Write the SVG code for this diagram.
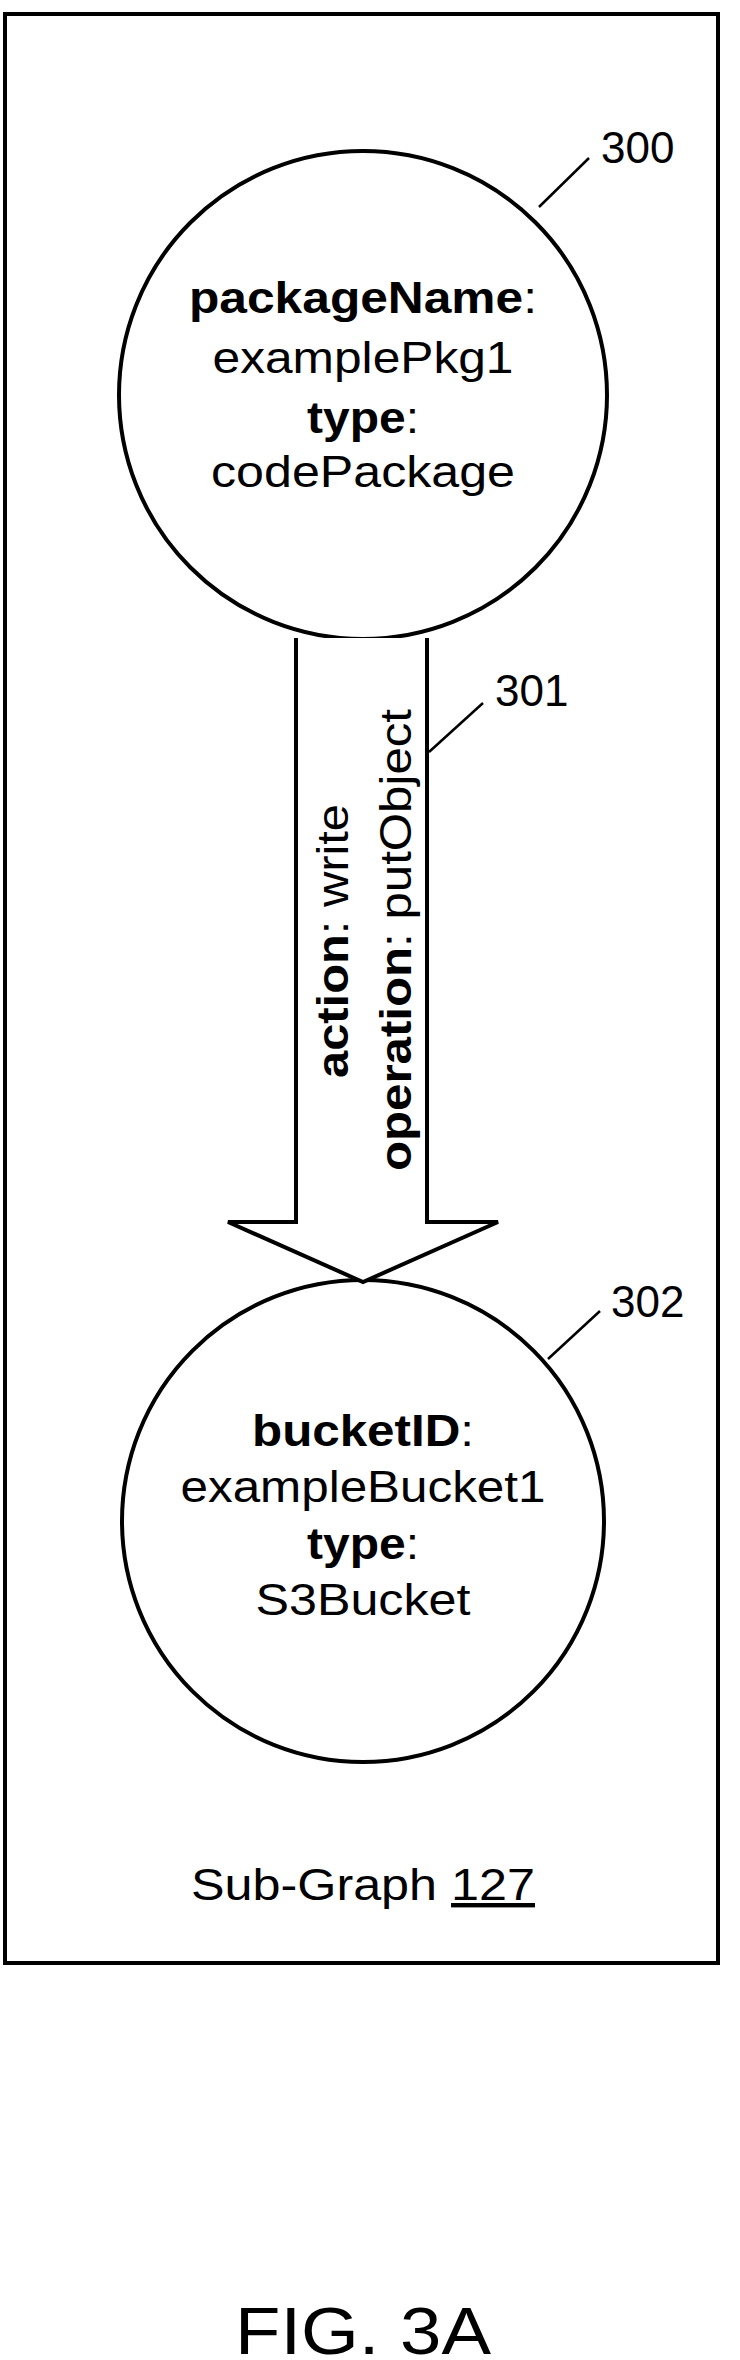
<svg xmlns="http://www.w3.org/2000/svg" width="740" height="2360" viewBox="0 0 740 2360">
<style>
.s{fill:none;stroke:#000;stroke-width:4}
.t{font-family:"Liberation Sans",Arial,sans-serif;font-size:44px;fill:#000;text-anchor:middle}
.b{font-weight:bold}
.l{fill:none;stroke:#000;stroke-width:2.5}
</style>
<rect class="s" x="5" y="14" width="713" height="1949"/>
<g id="node300">
<circle class="s" cx="363" cy="395" r="244"/>
<text class="t" x="363" y="313" textLength="348" lengthAdjust="spacingAndGlyphs"><tspan class="b">packageName</tspan>:</text>
<text class="t" x="363" y="373" textLength="301" lengthAdjust="spacingAndGlyphs">examplePkg1</text>
<text class="t" x="363" y="433" textLength="112" lengthAdjust="spacingAndGlyphs"><tspan class="b">type</tspan>:</text>
<text class="t" x="363" y="487" textLength="304" lengthAdjust="spacingAndGlyphs">codePackage</text>
<line class="l" x1="539" y1="207" x2="589" y2="158"/>
<text class="t" x="601" y="163" style="text-anchor:start">300</text>
</g>
<g id="node302">
<circle class="s" cx="363" cy="1521" r="241"/>
<text class="t" x="363" y="1446" textLength="222" lengthAdjust="spacingAndGlyphs"><tspan class="b">bucketID</tspan>:</text>
<text class="t" x="363" y="1502" textLength="365" lengthAdjust="spacingAndGlyphs">exampleBucket1</text>
<text class="t" x="363" y="1559" textLength="112" lengthAdjust="spacingAndGlyphs"><tspan class="b">type</tspan>:</text>
<text class="t" x="363" y="1615" textLength="215" lengthAdjust="spacingAndGlyphs">S3Bucket</text>
<line class="l" x1="548" y1="1359" x2="600" y2="1311"/>
<text class="t" x="611" y="1317" style="text-anchor:start">302</text>
</g>
<g id="connectors">
<path d="M296 638 V1222 H228 L363 1282 L498 1222 H427 V638" fill="#fff" stroke="#000" stroke-width="4"/>
<text class="t" transform="translate(348,941) rotate(-90)" textLength="274" lengthAdjust="spacingAndGlyphs"><tspan class="b">action</tspan>: write</text>
<text class="t" transform="translate(411,940) rotate(-90)" textLength="462" lengthAdjust="spacingAndGlyphs"><tspan class="b">operation</tspan>: putObject</text>
<line class="l" x1="429" y1="752" x2="483" y2="703"/>
<text class="t" x="495" y="706" style="text-anchor:start">301</text>
</g>
<text class="t" x="363" y="1900" textLength="344" lengthAdjust="spacingAndGlyphs">Sub-Graph <tspan text-decoration="underline">127</tspan></text>
<text class="t" x="363" y="2354" style="font-size:66px" textLength="256" lengthAdjust="spacingAndGlyphs">FIG. 3A</text>
</svg>
